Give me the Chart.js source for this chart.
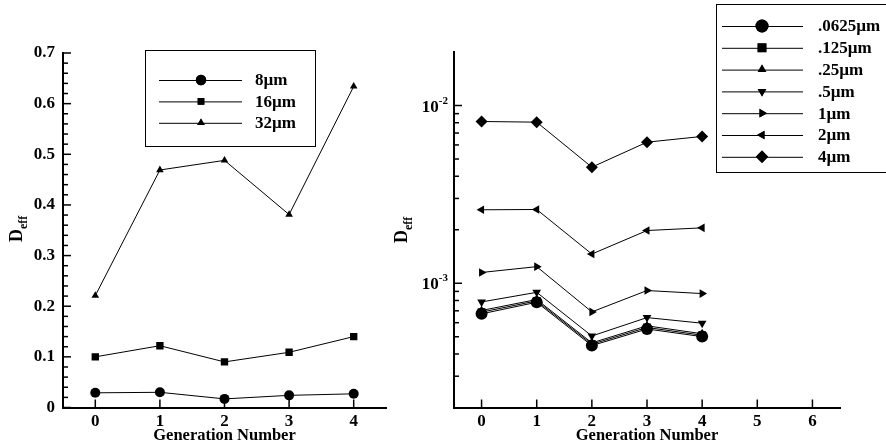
<!DOCTYPE html>
<html><head><meta charset="utf-8">
<script src="https://cdn.jsdelivr.net/npm/chart.js@4.4.0/dist/chart.umd.min.js"></script>
<style>
html,body{margin:0;padding:0;background:#fff;}
#wrap{position:relative;width:886px;height:445px;overflow:hidden;background:#fff;}
.box{position:absolute;top:0;height:445px;}
</style></head><body>
<div id="wrap">
<div class="box" style="left:0;width:400px"><canvas id="c1" width="400" height="445" style="width:400px;height:445px"></canvas></div>
<div class="box" style="left:380px;width:506px"><canvas id="c2" width="506" height="445" style="width:506px;height:445px"></canvas></div>
</div>
<script>
// ---------- data: left chart ----------
const gensLeft = [0, 1, 2, 3, 4];
const d8um  = [0.029, 0.030, 0.017, 0.024, 0.027];
const d16um = [0.100, 0.122, 0.090, 0.109, 0.140];
const d32um = [0.221, 0.469, 0.488, 0.381, 0.634];
const leftSeriesNames = ['8\u00B5m', '16\u00B5m', '32\u00B5m'];
const leftXTicks = [0, 1, 2, 3, 4];
const leftYTicks = [0, 0.1, 0.2, 0.3, 0.4, 0.5, 0.6, 0.7];
const leftYTickLabels = ['0', '0.1', '0.2', '0.3', '0.4', '0.5', '0.6', '0.7'];

// ---------- data: right chart ----------
const gensRight = [0, 1, 2, 3, 4];
const d0625 = [6.73e-4, 7.82e-4, 4.46e-4, 5.53e-4, 5.01e-4];
const d125  = [6.88e-4, 7.96e-4, 4.54e-4, 5.64e-4, 5.10e-4];
const d25   = [7.03e-4, 8.10e-4, 4.62e-4, 5.76e-4, 5.20e-4];
const d5    = [7.85e-4, 8.89e-4, 5.05e-4, 6.41e-4, 5.96e-4];
const d1    = [1.15e-3, 1.24e-3, 6.90e-4, 9.10e-4, 8.75e-4];
const d2    = [2.59e-3, 2.60e-3, 1.46e-3, 1.98e-3, 2.05e-3];
const d4    = [8.13e-3, 8.06e-3, 4.50e-3, 6.22e-3, 6.70e-3];
const rightSeriesNames = ['.0625\u00B5m', '.125\u00B5m', '.25\u00B5m', '.5\u00B5m', '1\u00B5m', '2\u00B5m', '4\u00B5m'];
const rightXTicks = [0, 1, 2, 3, 4, 5, 6];
const rightYMajor = [1e-3, 1e-2];
const rightYMajorExp = ['-3', '-2'];

const FONT = "'Liberation Serif', 'Times New Roman', Times, serif";

function pts(xs, ys) { return xs.map((x, i) => ({ x: x, y: ys[i] })); }

function ds(label, data, style, rot, r) {
  return {
    label: label, data: data, borderColor: '#000', backgroundColor: '#000',
    borderWidth: 1, pointStyle: style, pointRotation: rot, pointRadius: r,
    pointBorderWidth: 0, pointBackgroundColor: '#000', pointBorderColor: '#000',
    fill: false, tension: 0
  };
}

function marker(ctx, style, rot, r, x, y) {
  if (Chart.helpers && Chart.helpers.drawPoint) {
    ctx.fillStyle = '#000'; ctx.strokeStyle = '#000';
    Chart.helpers.drawPoint(ctx, { pointStyle: style, rotation: rot, radius: r, borderWidth: 0 }, x, y);
    ctx.fill();
  }
}

function rotLabel(ctx, x, y, main, sub, f1, f2, subShift) {
  ctx.save();
  ctx.translate(x, y);
  ctx.rotate(-Math.PI / 2);
  ctx.fillStyle = '#000';
  ctx.textAlign = 'left'; ctx.textBaseline = 'alphabetic';
  ctx.font = 'bold ' + f1 + 'px ' + FONT;
  ctx.fillText(main, 0, 0);
  const w = ctx.measureText(main).width;
  ctx.font = 'bold ' + f2 + 'px ' + FONT;
  ctx.fillText(sub, w, subShift);
  ctx.restore();
}

const decor = {
  id: 'decor',
  afterDraw(chart, args, o) {
    const ctx = chart.ctx, ca = chart.chartArea;
    const xs = chart.scales.x, ys = chart.scales.y;
    ctx.save();
    ctx.strokeStyle = '#000';
    ctx.lineWidth = 1.5;
    const tickY = (v, len) => { const p = ys.getPixelForValue(v); ctx.beginPath(); ctx.moveTo(ca.left, p); ctx.lineTo(ca.left + len, p); ctx.stroke(); };
    const tickX = (v, len) => { const p = xs.getPixelForValue(v); ctx.beginPath(); ctx.moveTo(p, ca.bottom); ctx.lineTo(p, ca.bottom - len); ctx.stroke(); };
    o.yMajor.forEach(v => tickY(v, 8));
    o.yMinor.forEach(v => tickY(v, 5));
    o.xMajor.forEach(v => tickX(v, 8));

    // custom y labels (log axis)
    if (o.yLabels) {
      ctx.fillStyle = '#000';
      o.yLabels.forEach((lab, i) => {
        const p = ys.getPixelForValue(lab.v);
        ctx.font = 'bold 17px ' + FONT;
        const w1 = ctx.measureText('10').width;
        ctx.font = 'bold 11px ' + FONT;
        const w2 = ctx.measureText(lab.e).width;
        const x0 = ca.left - 6 - w1 - w2;
        ctx.textAlign = 'left'; ctx.textBaseline = 'alphabetic';
        ctx.font = 'bold 17px ' + FONT;
        ctx.fillText('10', x0, p + 6);
        ctx.font = 'bold 11px ' + FONT;
        ctx.fillText(lab.e, x0 + w1, p - 2);
      });
    }

    // axis titles
    ctx.fillStyle = '#000';
    ctx.font = 'bold 16.5px ' + FONT;
    ctx.textAlign = 'center'; ctx.textBaseline = 'alphabetic';
    ctx.fillText('Generation Number', (ca.left + ca.right) / 2, o.xTitleY);
    rotLabel(ctx, o.yTitleX, o.yTitleY, 'D', 'eff', 18, 12, 5);

    // legend
    const L = o.legend;
    ctx.fillStyle = '#fff';
    ctx.fillRect(L.x0, L.y0, L.x1 - L.x0, L.y1 - L.y0);
    ctx.strokeStyle = '#000'; ctx.lineWidth = 1;
    ctx.strokeRect(L.x0 + 0.5, L.y0 + 0.5, L.x1 - L.x0, L.y1 - L.y0);
    chart.data.datasets.forEach((d, i) => {
      const y = L.rowY + i * L.step;
      ctx.strokeStyle = '#000'; ctx.lineWidth = 1;
      ctx.beginPath(); ctx.moveTo(L.lx0, y + 0.5); ctx.lineTo(L.lx1, y + 0.5); ctx.stroke();
      marker(ctx, d.pointStyle, d.pointRotation, L.radii[i], L.mx, y);
      ctx.fillStyle = '#000';
      ctx.font = 'bold ' + L.font + 'px ' + FONT;
      ctx.textAlign = 'left'; ctx.textBaseline = 'middle';
      ctx.fillText(d.label, L.tx, y + 1);
    });
    ctx.restore();
  }
};

const tickFont = { family: FONT, size: 17, weight: 'bold' };

// ---------- left chart ----------
const leftMinor = [];
leftYTicks.slice(0, -1).forEach(v => { for (let k = 1; k < 5; k++) leftMinor.push(v + k * 0.02); });

new Chart(document.getElementById('c1'), {
  type: 'line',
  data: {
    datasets: [
      ds(leftSeriesNames[0], pts(gensLeft, d8um), 'circle', 0, 5),
      ds(leftSeriesNames[1], pts(gensLeft, d16um), 'rect', 0, 5.2),
      ds(leftSeriesNames[2], pts(gensLeft, d32um), 'triangle', 0, 4.4)
    ]
  },
  options: {
    responsive: false, animation: false, events: [],
    layout: { padding: { left: 0, right: 14, top: 53, bottom: 0 } },
    plugins: {
      legend: { display: false }, tooltip: { enabled: false },
      decor: {
        yMajor: leftYTicks, yMinor: leftMinor, xMajor: leftXTicks,
        xTitleY: 440, yTitleX: 22, yTitleY: 242,
        legend: { x0: 145, y0: 50, x1: 315, y1: 146, rowY: 80, step: 21.4, lx0: 159, lx1: 242, mx: 201, tx: 255, font: 17, radii: [5.2, 4.7, 4.4] }
      }
    },
    scales: {
      x: {
        type: 'linear', min: -0.5, max: 4.5,
        afterBuildTicks: s => { s.ticks = leftXTicks.map(v => ({ value: v })); },
        afterFit: s => { s.height = 37.5; },
        grid: { display: false, drawTicks: false },
        border: { display: true, color: '#000', width: 2 },
        ticks: { font: tickFont, color: '#000', padding: 4, maxRotation: 0, autoSkip: false, callback: v => String(v) }
      },
      y: {
        type: 'linear', min: 0, max: 0.7,
        afterBuildTicks: s => { s.ticks = leftYTicks.map(v => ({ value: v })); },
        afterFit: s => { s.width = 63; },
        grid: { display: false, drawTicks: false },
        border: { display: true, color: '#000', width: 2 },
        ticks: { font: tickFont, color: '#000', padding: 8, autoSkip: false,
          callback: (v) => { const i = leftYTicks.findIndex(t => Math.abs(t - v) < 1e-9); return i >= 0 ? leftYTickLabels[i] : ''; } }
      }
    }
  },
  plugins: [decor]
});

// ---------- right chart ----------
const rightMinor = [];
[1e-4, 1e-3].forEach(base => { for (let k = 2; k <= 9; k++) { const v = base * k; if (v > 2e-4 && v < 2e-2) rightMinor.push(v); } });

new Chart(document.getElementById('c2'), {
  type: 'line',
  data: {
    datasets: [
      ds(rightSeriesNames[0], pts(gensRight, d0625), 'circle', 0, 6),
      ds(rightSeriesNames[1], pts(gensRight, d125), 'rect', 0, 5.5),
      ds(rightSeriesNames[2], pts(gensRight, d25), 'triangle', 0, 5),
      ds(rightSeriesNames[3], pts(gensRight, d5), 'triangle', 180, 5),
      ds(rightSeriesNames[4], pts(gensRight, d1), 'triangle', 90, 5),
      ds(rightSeriesNames[5], pts(gensRight, d2), 'triangle', 270, 5),
      ds(rightSeriesNames[6], pts(gensRight, d4), 'rectRot', 0, 6)
    ]
  },
  options: {
    responsive: false, animation: false, events: [],
    layout: { padding: { left: 0, right: 46, top: 52, bottom: 0 } },
    plugins: {
      legend: { display: false }, tooltip: { enabled: false },
      decor: {
        yMajor: rightYMajor, yMinor: rightMinor, xMajor: rightXTicks,
        yLabels: rightYMajor.map((v, i) => ({ v: v, e: rightYMajorExp[i] })),
        xTitleY: 440, yTitleX: 27, yTitleY: 243,
        legend: { x0: 336, y0: 4, x1: 540, y1: 172, rowY: 26, step: 21.8, lx0: 342, lx1: 423, mx: 382, tx: 438, font: 17, radii: [6.5, 6.2, 5, 5, 5, 5, 6.2] }
      }
    },
    scales: {
      x: {
        type: 'linear', min: -0.5, max: 6.5,
        afterBuildTicks: s => { s.ticks = rightXTicks.map(v => ({ value: v })); },
        afterFit: s => { s.height = 37.5; },
        grid: { display: false, drawTicks: false },
        border: { display: true, color: '#000', width: 2 },
        ticks: { font: tickFont, color: '#000', padding: 4, maxRotation: 0, autoSkip: false, callback: v => String(v) }
      },
      y: {
        type: 'logarithmic', min: 2e-4, max: 2e-2,
        afterFit: s => { s.width = 74; },
        grid: { display: false, drawTicks: false },
        border: { display: true, color: '#000', width: 2 },
        ticks: { display: false }
      }
    }
  },
  plugins: [decor]
});
</script>
</body></html>
